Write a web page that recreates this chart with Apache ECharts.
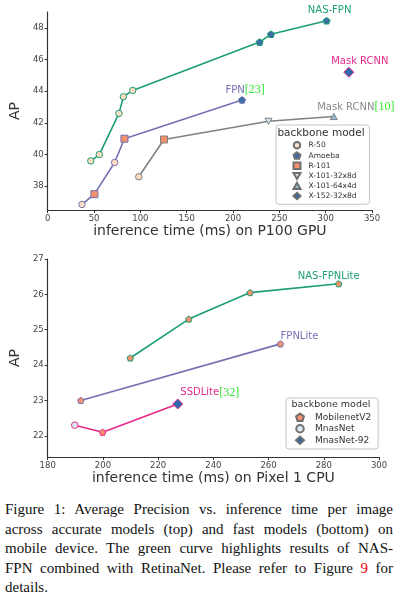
<!DOCTYPE html>
<html>
<head>
<meta charset="utf-8">
<script src="https://cdn.jsdelivr.net/npm/echarts@6/dist/echarts.min.js"></script>
<style>
  html, body { margin: 0; padding: 0; background: #fff; }
  #chart { position: absolute; left: 0; top: 0; width: 400px; height: 490px; }
  #caption { position: absolute; left: 5px; top: 500px; width: 388px;
    font-family: "Liberation Serif", "DejaVu Serif", serif; font-size: 15px; line-height: 19.5px; color: #111; }
  #caption .j { text-align: justify; text-align-last: justify; white-space: nowrap; overflow: visible; }
  #caption .r { color: #e00; }
</style>
</head>
<body>
<div id="chart"></div>
<div id="caption">
  <div class="j">Figure 1: Average Precision vs. inference time per image</div>
  <div class="j">across accurate models (top) and fast models (bottom) on</div>
  <div class="j">mobile device. The green curve highlights results of NAS-</div>
  <div class="j">FPN combined with RetinaNet. Please refer to Figure <span class="r">9</span> for</div>
  <div>details.</div>
</div>
<script>
// ---------- data: top chart (P100 GPU) ----------
const nasFpnTime = [46.5, 55.7, 76.9, 81.7, 91.7, 228.7, 241.0, 301.0];
const nasFpnAP = [39.6, 40.0, 42.6, 43.65, 44.05, 47.1, 47.6, 48.45];
const nasFpnBackbone = ['R-50', 'R-50', 'R-50', 'R-50', 'R-50', 'Amoeba', 'Amoeba', 'Amoeba'];

const fpnTime = [37.0, 50.4, 72.2, 82.8, 209.7];
const fpnAP = [36.85, 37.5, 39.5, 41.0, 43.45];
const fpnBackbone = ['R-50', 'R-101', 'R-50', 'R-101', 'Amoeba'];

const maskRcnnTime = [98.3, 125.5, 238.3, 308.8];
const maskRcnnAP = [38.6, 40.95, 42.1, 42.4];
const maskRcnnBackbone = ['R-50', 'R-101', 'X-101-32x8d', 'X-101-64x4d'];

const maskRcnnBigTime = [325.0];
const maskRcnnBigAP = [45.2];
const maskRcnnBigBackbone = ['X-152-32x8d'];

const topBackbones = ['R-50', 'Amoeba', 'R-101', 'X-101-32x8d', 'X-101-64x4d', 'X-152-32x8d'];
const topYTicks = [38, 40, 42, 44, 46, 48];

// ---------- data: bottom chart (Pixel 1 CPU) ----------
const nasFpnLiteTime = [209.9, 231.1, 253.3, 285.4];
const nasFpnLiteAP = [24.2, 25.3, 26.05, 26.3];
const nasFpnLiteBackbone = ['MobilenetV2', 'MobilenetV2', 'MobilenetV2', 'MobilenetV2'];

const fpnLiteTime = [192.0, 264.3];
const fpnLiteAP = [23.0, 24.6];
const fpnLiteBackbone = ['MobilenetV2', 'MobilenetV2'];

const ssdLiteTime = [189.8, 199.9, 227.1];
const ssdLiteAP = [22.3, 22.1, 22.9];
const ssdLiteBackbone = ['MnasNet', 'MobilenetV2', 'MnasNet-92'];

const bottomBackbones = ['MobilenetV2', 'MnasNet', 'MnasNet-92'];
const bottomYTicks = [22, 23, 24, 25, 26, 27];

// ---------- styles ----------
const FONT = '"DejaVu Sans", sans-serif';
const C_GREEN = '#1b9e77', C_PURPLE = '#7570b3', C_MAGENTA = '#e7298a', C_GRAY = '#808080';
const REF_GREEN = '#2ee82e';
const PENTAGON = 'path://M0,-1 L0.951,-0.309 L0.588,0.809 L-0.588,0.809 L-0.951,-0.309 Z';
const TRI_DOWN = 'path://M-1,-0.85 L1,-0.85 L0,0.9 Z';
const TRI_UP = 'path://M-1,0.85 L1,0.85 L0,-0.9 Z';

const markerStyle = {
  'R-50':        { symbol: 'circle',  size: 6.5, fill: '#fddcc4' },
  'Amoeba':      { symbol: PENTAGON,  size: 7,   fill: '#3a6ea5' },
  'R-101':       { symbol: 'rect',    size: 7,   fill: '#f4916b' },
  'X-101-32x8d': { symbol: TRI_DOWN,  size: 7,   fill: '#d3e4f3' },
  'X-101-64x4d': { symbol: TRI_UP,    size: 7,   fill: '#8fbcdb' },
  'X-152-32x8d': { symbol: 'diamond', size: 10,  fill: '#2e6bad' },
  'MobilenetV2': { symbol: PENTAGON,  size: 6.5, fill: '#f4916b' },
  'MnasNet':     { symbol: 'circle',  size: 6.5, fill: '#dceaf6' },
  'MnasNet-92':  { symbol: 'diamond', size: 10,  fill: '#2e6bad' }
};

function rich(nameColor, size) {
  return {
    n: { color: nameColor, fontFamily: FONT, fontSize: size || 10 },
    r: { color: REF_GREEN, fontFamily: '"Liberation Serif", serif', fontSize: 12 }
  };
}

const groups = [
  { name: 'NAS-FPN', grid: 0, t: nasFpnTime, ap: nasFpnAP, bb: nasFpnBackbone, color: C_GREEN, line: true,
    labelIdx: 7, label: { formatter: '{n|NAS-FPN}', rich: rich(C_GREEN), offset: [3, 0] } },
  { name: 'FPN', grid: 0, t: fpnTime, ap: fpnAP, bb: fpnBackbone, color: C_PURPLE, line: true,
    labelIdx: 4, label: { formatter: '{n|FPN}{r|[23]}', rich: rich(C_PURPLE), offset: [3, 1] } },
  { name: 'Mask RCNN [10]', grid: 0, t: maskRcnnTime, ap: maskRcnnAP, bb: maskRcnnBackbone, color: C_GRAY, line: true,
    labelIdx: 3, label: { formatter: '{n|Mask RCNN}{r|[10]}', rich: rich('#8a8a8a'), offset: [22, 1] } },
  { name: 'Mask RCNN', grid: 0, t: maskRcnnBigTime, ap: maskRcnnBigAP, bb: maskRcnnBigBackbone, color: C_MAGENTA, line: false,
    labelIdx: 0, label: { formatter: '{n|Mask RCNN}', rich: rich(C_MAGENTA), offset: [11, 1] } },
  { name: 'NAS-FPNLite', grid: 1, t: nasFpnLiteTime, ap: nasFpnLiteAP, bb: nasFpnLiteBackbone, color: C_GREEN, line: true,
    labelIdx: 3, label: { formatter: '{n|NAS-FPNLite}', rich: rich(C_GREEN), offset: [-10, 2] } },
  { name: 'FPNLite', grid: 1, t: fpnLiteTime, ap: fpnLiteAP, bb: fpnLiteBackbone, color: C_PURPLE, line: true,
    labelIdx: 1, label: { formatter: '{n|FPNLite}', rich: rich(C_PURPLE), offset: [19, 2] } },
  { name: 'SSDLite [32]', grid: 1, t: ssdLiteTime, ap: ssdLiteAP, bb: ssdLiteBackbone, color: C_MAGENTA, line: true,
    labelIdx: 2, label: { formatter: '{n|SSDLite}{r|[32]}', rich: rich(C_MAGENTA), offset: [32, 1] } }
];

const series = [];
groups.forEach(g => {
  if (g.line) {
    series.push({
      type: 'line', name: g.name + ' line', xAxisIndex: g.grid, yAxisIndex: g.grid,
      data: g.t.map((x, i) => [x, g.ap[i]]),
      symbol: 'none', silent: true, z: 2,
      lineStyle: { color: g.color, width: 1.6 }
    });
  }
});

function backboneSeries(bbName, gridIdx) {
  const st = markerStyle[bbName];
  const data = [];
  groups.filter(g => g.grid === gridIdx).forEach(g => {
    g.t.forEach((x, i) => {
      if (g.bb[i] !== bbName) return;
      const item = { value: [x, g.ap[i]], itemStyle: { borderColor: g.color } };
      if (i === g.labelIdx) {
        item.label = Object.assign({ show: true, position: 'top', distance: 1 }, g.label);
      }
      data.push(item);
    });
  });
  return {
    type: 'scatter', name: bbName, xAxisIndex: gridIdx, yAxisIndex: gridIdx,
    symbol: st.symbol, symbolSize: st.size, symbolKeepAspect: true, z: 5,
    itemStyle: { color: st.fill, borderColor: '#6f6f6f', borderWidth: 1, opacity: 1 },
    label: { show: false },
    emphasis: { disabled: true },
    data: data
  };
}
topBackbones.forEach(b => series.push(backboneSeries(b, 0)));
bottomBackbones.forEach(b => series.push(backboneSeries(b, 1)));

function xAxisCfg(gridIdx, min, max, interval, name) {
  return {
    type: 'value', gridIndex: gridIdx, min: min, max: max, interval: interval,
    name: name, nameLocation: 'middle', nameGap: 13,
    nameTextStyle: { fontFamily: FONT, fontSize: 14, color: '#333' },
    axisLine: { show: true, onZero: false, lineStyle: { color: '#333', width: 1.2 } },
    axisTick: { show: true, inside: false, length: 3, lineStyle: { color: '#333' } },
    axisLabel: { fontFamily: FONT, fontSize: 8.5, color: '#444', margin: 4 },
    splitLine: { show: false }
  };
}
function yAxisCfg(gridIdx, min, max, ticks) {
  return {
    type: 'value', gridIndex: gridIdx, min: min, max: max,
    name: 'AP', nameLocation: 'middle', nameGap: 15, nameRotate: 90,
    nameTextStyle: { fontFamily: FONT, fontSize: 14, color: '#333' },
    axisLine: { show: true, onZero: false, lineStyle: { color: '#333', width: 1.2 } },
    axisTick: { show: true, inside: false, length: 3, customValues: ticks, lineStyle: { color: '#333' } },
    axisLabel: { fontFamily: FONT, fontSize: 8.5, color: '#444', margin: 4, customValues: ticks },
    splitLine: { show: false }
  };
}

function legendCfg(names, left, top, fontSize, itemW, itemH, gap, padding, textPad) {
  return {
    orient: 'vertical', left: left, top: top, data: names, selectedMode: false,
    itemWidth: itemW, itemHeight: itemH, itemGap: gap, padding: padding,
    backgroundColor: 'rgba(255,255,255,0.9)', borderColor: '#c4c4c4', borderWidth: 1, borderRadius: 3,
    textStyle: { fontFamily: FONT, fontSize: fontSize, color: '#333', padding: [0, 0, 0, textPad] }
  };
}

const chart = echarts.init(document.getElementById('chart'), null, { renderer: 'canvas' });
chart.setOption({
  animation: false,
  backgroundColor: '#fff',
  grid: [
    { left: 41, top: 12, width: 331, height: 198, containLabel: false },
    { left: 42, top: 259, width: 337, height: 198, containLabel: false }
  ],
  xAxis: [
    xAxisCfg(0, 0, 350, 50, 'inference time (ms) on P100 GPU'),
    xAxisCfg(1, 180, 300, 20, 'inference time (ms) on Pixel 1 CPU')
  ],
  yAxis: [
    yAxisCfg(0, 36.5, 49, topYTicks),
    yAxisCfg(1, 21.4, 27, bottomYTicks)
  ],
  legend: [
    legendCfg(topBackbones, 276, 125, 7.5, 7, 6.5, 1.8, [16, 13, 4, 16.5], 3),
    legendCfg(bottomBackbones, 286, 398, 9, 8, 7.5, 2, [14.5, 7, 4, 9], 6)
  ],
  graphic: [
    { type: 'text', z: 100, style: { x: 321, y: 133.5, text: 'backbone model', align: 'center', verticalAlign: 'middle',
      fontFamily: FONT, fontSize: 10.5, fill: '#333' } },
    { type: 'text', z: 100, style: { x: 331, y: 405, text: 'backbone model', align: 'center', verticalAlign: 'middle',
      fontFamily: FONT, fontSize: 9.5, fill: '#333' } }
  ],
  series: series
});
</script>
</body>
</html>
